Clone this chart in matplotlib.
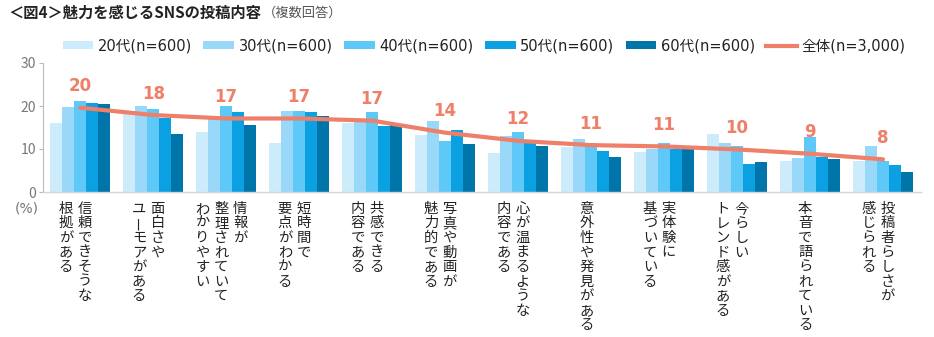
import numpy as np
import matplotlib
matplotlib.use("Agg")
import matplotlib.pyplot as plt
from matplotlib.patches import Patch
from matplotlib.lines import Line2D

plt.rcParams['font.family'] = ['Noto Sans CJK JP', 'DejaVu Sans']

# --- data ---
categories = [
    ["信頼できそうな", "根拠がある"],
    ["面白さや", "ユーモアがある"],
    ["情報が", "整理されていて", "わかりやすい"],
    ["短時間で", "要点がわかる"],
    ["共感できる", "内容である"],
    ["写真や動画が", "魅力的である"],
    ["心が温まるような", "内容である"],
    ["意外性や発見がある"],
    ["実体験に", "基づいている"],
    ["今らしい", "トレンド感がある"],
    ["本音で語られている"],
    ["投稿者らしさが", "感じられる"],
]
age_labels = ["20代(n=600)", "30代(n=600)", "40代(n=600)", "50代(n=600)", "60代(n=600)"]
v20 = [16.0, 18.1, 14.0, 11.5, 16.0, 13.3, 9.1, 10.5, 9.3, 13.6, 7.2, 7.3]
v30 = [19.7, 20.1, 17.2, 18.9, 16.8, 16.4, 13.1, 12.3, 10.1, 11.5, 8.0, 10.8]
v40 = [21.2, 19.4, 20.1, 18.9, 18.5, 11.8, 13.9, 11.3, 11.5, 10.7, 12.8, 7.2]
v50 = [20.7, 17.1, 18.6, 18.6, 15.4, 14.5, 11.3, 9.6, 10.1, 6.5, 8.2, 6.2]
v60 = [20.4, 13.6, 15.6, 17.7, 15.8, 11.1, 10.7, 8.2, 9.9, 6.9, 7.6, 4.7]
total = [19.6, 17.9, 17.1, 17.1, 16.6, 13.8, 11.9, 10.9, 10.6, 9.9, 8.9, 7.6]
total_label = "全体(n=3,000)"

colors = ["#CCECFC", "#99D8F8", "#5EC8F8", "#0BA0E2", "#0075AA"]
line_color = "#EE7F68"

fig = plt.figure(figsize=(9.34, 3.37), dpi=100)
ax = fig.add_axes([43 / 934, 1 - 192 / 337, 878 / 934, 129 / 337])

x = np.arange(len(categories))
series = [v20, v30, v40, v50, v60]
bw = 0.164
for k, vals in enumerate(series):
    ax.bar(x + (k - 2) * bw, vals, width=bw, color=colors[k], linewidth=0, zorder=2)

ax.plot(x, total, color=line_color, linewidth=3, solid_capstyle='round', zorder=3)
for xi, v in zip(x, total):
    ax.annotate(f"{round(v)}", xy=(xi, v), xytext=(0, 15.5), textcoords='offset points',
                ha='center', va='center', fontsize=12, fontweight='bold', color=line_color,
                family=['DejaVu Sans'])

ax.set_xlim(-0.51, 11.52)
ax.set_ylim(0, 30)
ax.set_yticks([0, 10, 20, 30])
ax.set_xticks([])
ax.tick_params(axis='y', colors='#BBBBBB', labelcolor='#777777', labelsize=10, length=3, width=0.8, pad=2)
for s in ['top', 'right']:
    ax.spines[s].set_visible(False)
ax.spines['left'].set_color('#BBBBBB')
ax.spines['bottom'].set_color('#D5D5D5')
ax.spines['left'].set_linewidth(0.8)
ax.spines['bottom'].set_linewidth(1.0)

# vertical category labels (columns right to left)
pitch = 10.5   # points per character
col_gap = 13.5  # points between columns
for xi, lines in zip(x, categories):
    n = len(lines)
    for j, line in enumerate(lines):
        dx = -3.5 + ((n - 1) / 2 - j) * col_gap
        for i, ch in enumerate(line):
            rot = 90 if ch == "ー" else 0
            ax.annotate(ch, xy=(xi, 0), xytext=(dx, -12 - i * pitch), textcoords='offset points',
                        ha='center', va='center', fontsize=10.3, color='#222222', rotation=rot,
                        annotation_clip=False)

fig.text(27 / 934, 1 - 208 / 337, "(%)", ha='center', va='center', fontsize=10, color='#777777',
         family=['DejaVu Sans'])

# title
t = fig.text(8 / 934, 1 - 13 / 337, "＜図4＞魅力を感じるSNSの投稿内容", ha='left', va='center',
             fontsize=11, fontweight='bold', color='#222222')
fig.canvas.draw()
bb = t.get_window_extent()
fig.text(bb.x1 / 934 + 2 / 934, 1 - 13 / 337, "（複数回答）", ha='left', va='center',
         fontsize=9.5, color='#555555')

handles = [Patch(facecolor=c, edgecolor='none') for c in colors]
handles.append(Line2D([0], [0], color=line_color, linewidth=3))
fig.legend(handles, age_labels + [total_label], loc='center', bbox_to_anchor=(484 / 934, 1 - 46 / 337),
           ncol=6, frameon=False, handlelength=2.1, handleheight=0.5,
           handletextpad=0.3, columnspacing=0.8, labelcolor='#222222',
           prop={'family': ['DejaVu Sans', 'Noto Sans CJK JP'], 'size': 10.5})

fig.savefig("out.png", dpi=100)
